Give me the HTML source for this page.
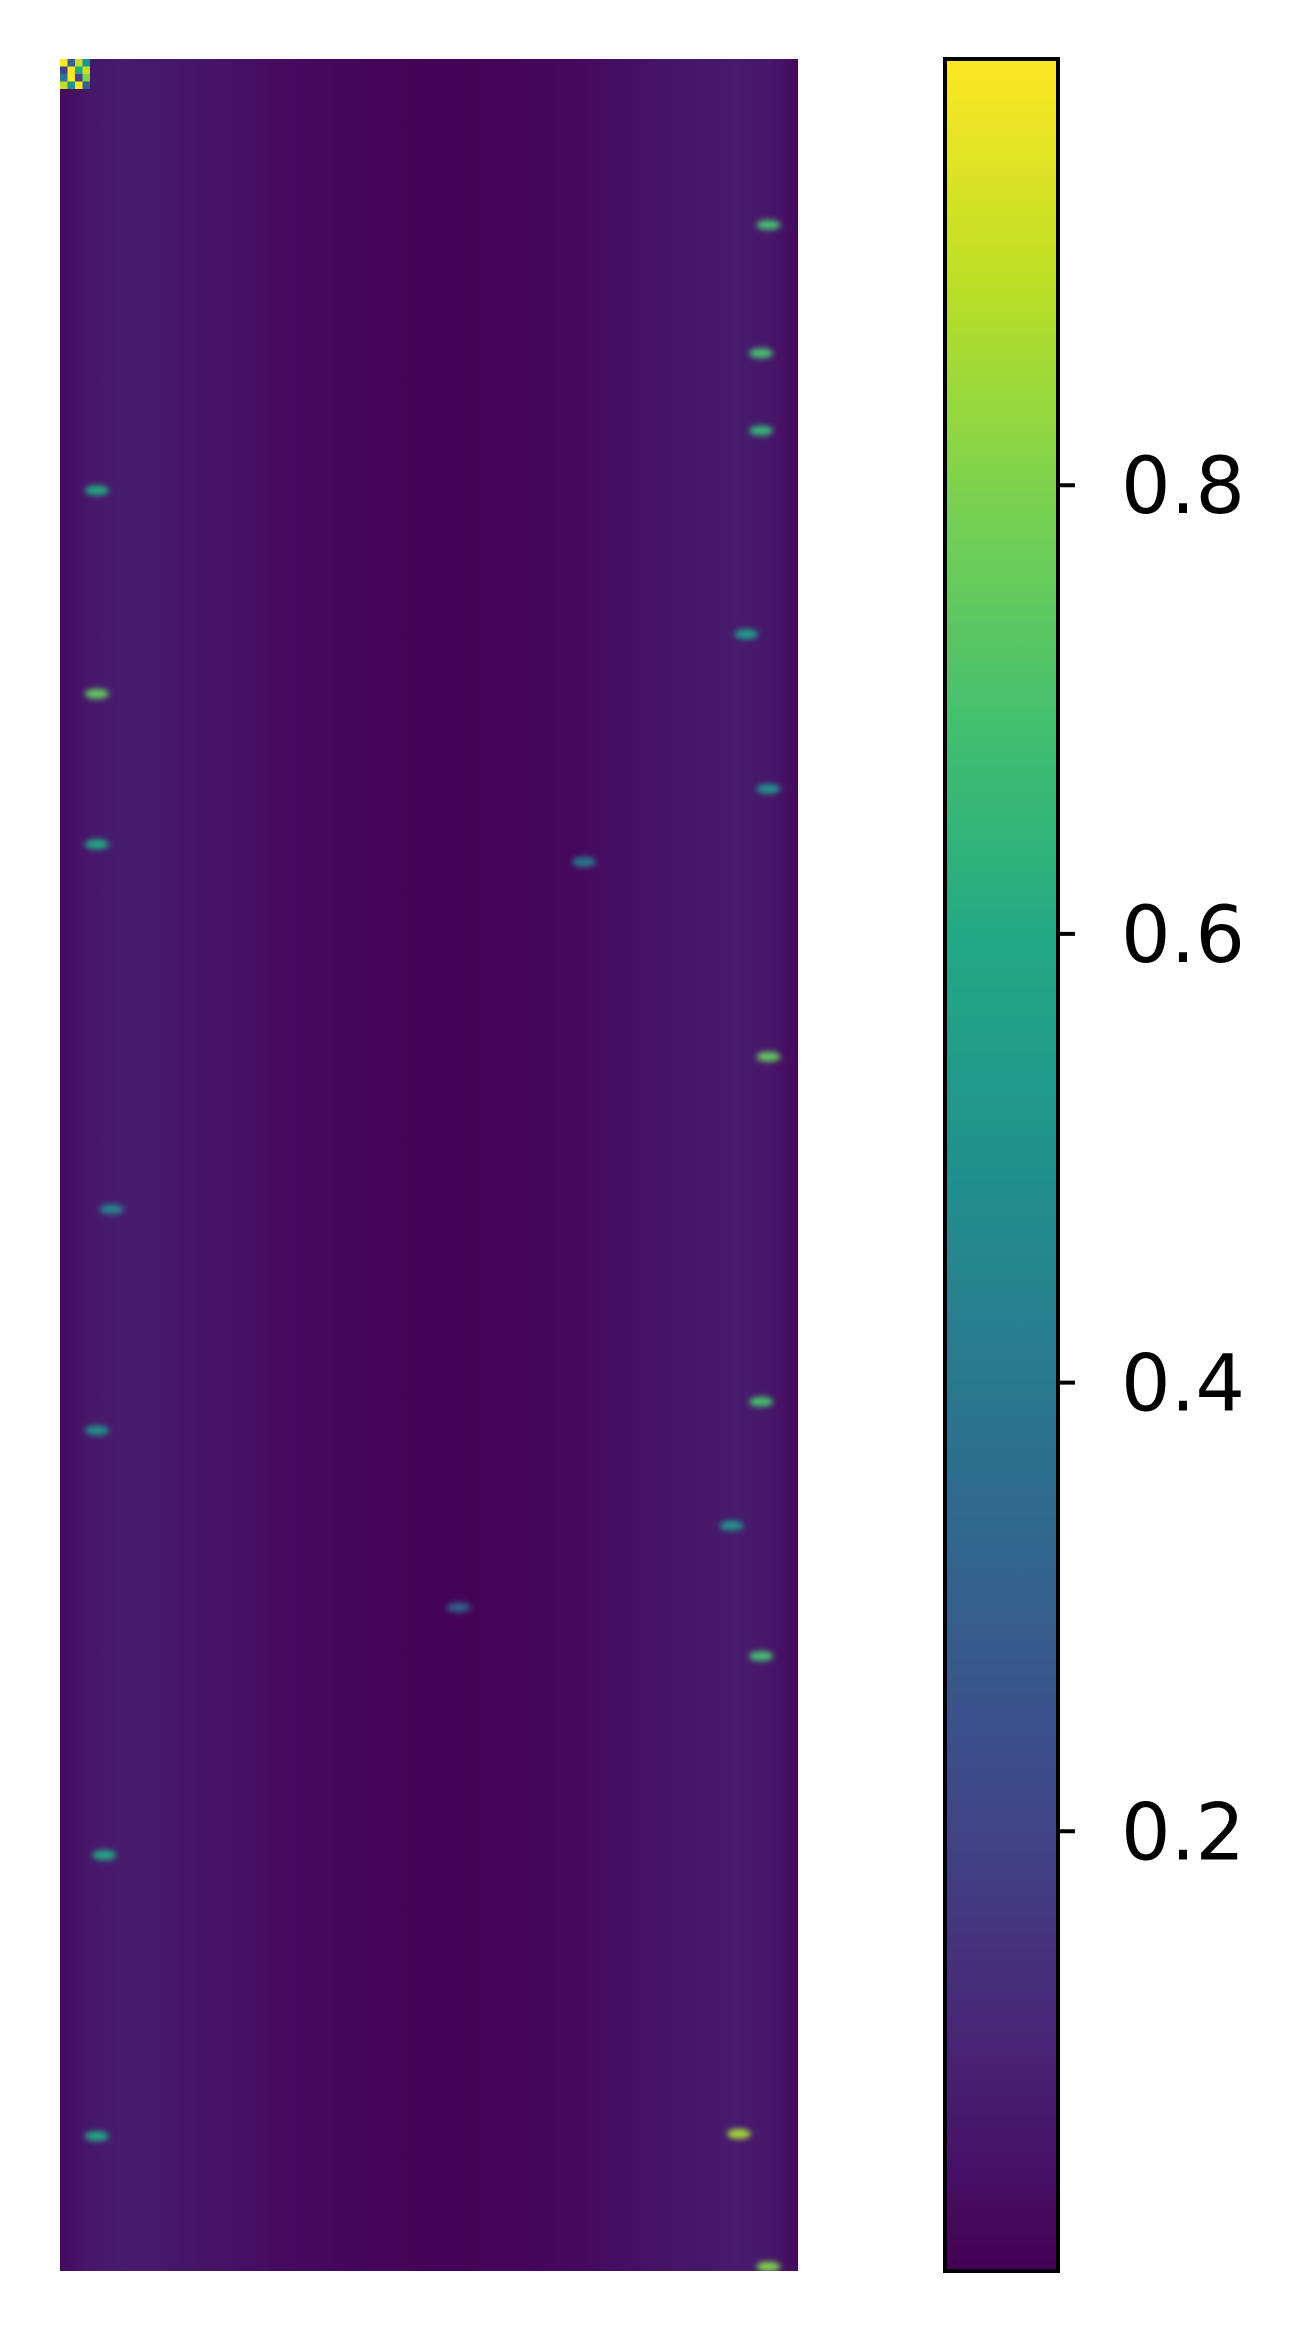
<!DOCTYPE html>
<html><head><meta charset="utf-8"><style>
html,body{margin:0;padding:0;background:#fff;width:1309px;height:2337px;overflow:hidden}
svg text{font-family:"DejaVu Sans","Liberation Sans",sans-serif}
</style></head><body>
<svg id="chart" width="1309" height="2337" viewBox="0 0 1309 2337" xmlns="http://www.w3.org/2000/svg">
<defs>
<linearGradient id="vir" x1="0" y1="1" x2="0" y2="0">
<stop offset="0" stop-color="#440154"/><stop offset="0.1" stop-color="#482475"/><stop offset="0.2" stop-color="#414487"/><stop offset="0.3" stop-color="#355f8d"/><stop offset="0.4" stop-color="#2a788e"/><stop offset="0.5" stop-color="#21918c"/><stop offset="0.6" stop-color="#22a884"/><stop offset="0.7" stop-color="#44bf70"/><stop offset="0.8" stop-color="#7ad151"/><stop offset="0.9" stop-color="#bddf26"/><stop offset="1" stop-color="#fde725"/>
</linearGradient>
<linearGradient id="colgrad" x1="0" y1="0" x2="1" y2="0"></linearGradient>
<filter id="blur" x="-50%" y="-50%" width="200%" height="200%"><feGaussianBlur stdDeviation="3"/></filter>
<clipPath id="hmclip"><rect x="60" y="59" width="738" height="2212"/></clipPath>
</defs>
<g id="heatmap" clip-path="url(#hmclip)"></g>
<g id="cbar"></g>
</svg>
<script>
const vmin = 0.004, vmax = 0.99;
const columnMeans = [0.03,0.07,0.08,0.075,0.065,0.055,0.045,0.035,0.03,0.022,0.016,0.012,0.01,0.01,0.012,0.016,0.022,0.03,0.04,0.05,0.06,0.07,0.078,0.07,0.03];
const spotX = [0.96,0.95,0.95,0.05,0.05,0.05,0.96,0.95,0.95,0.06,0.05,0.92,0.96,0.91,0.71,0.54,0.07,0.93,0.05,0.96];
const spotY = [0.075,0.133,0.168,0.195,0.287,0.355,0.451,0.607,0.722,0.812,0.939,0.938,0.998,0.663,0.363,0.70,0.52,0.26,0.62,0.33];
const spotV = [0.70,0.70,0.65,0.60,0.75,0.60,0.75,0.70,0.70,0.60,0.60,0.85,0.80,0.50,0.40,0.30,0.45,0.55,0.5,0.5];
const ticks = [0.2,0.4,0.6,0.8];
const tickLabels = ["0.2","0.4","0.6","0.8"];
const cornerCells = [1,0.3,0.9,0.5,0.2,1,0.6,0.9,0.4,1,0.2,0.8,0.9,0.5,1,0.3];

const stops=[[0,[68,1,84]],[0.1,[72,36,117]],[0.2,[65,68,135]],[0.3,[53,95,141]],[0.4,[42,120,142]],[0.5,[33,145,140]],[0.6,[34,168,132]],[0.7,[68,191,112]],[0.8,[122,209,81]],[0.9,[189,223,38]],[1,[253,231,37]]];
function viridis(v){v=Math.max(0,Math.min(1,(v-vmin)/(vmax-vmin)));for(let i=1;i<stops.length;i++){if(v<=stops[i][0]){const a=stops[i-1],b=stops[i],t=(v-a[0])/(b[0]-a[0]);return 'rgb('+a[1].map((c,k)=>Math.round(c+(b[1][k]-c)*t)).join(',')+')';}}return 'rgb(253,231,37)';}
const HX0=60,HX1=798,HY0=59,HY1=2271;
const xs=f=>HX0+f*(HX1-HX0), ys=f=>HY0+f*(HY1-HY0);
const NS='http://www.w3.org/2000/svg';
function mk(t,a,p){const e=document.createElementNS(NS,t);for(const k in a)e.setAttribute(k,a[k]);p.appendChild(e);return e;}
const cgrad=document.getElementById('colgrad');
columnMeans.forEach((v,i)=>{
 mk('stop',{offset:(i/(columnMeans.length-1)),'stop-color':viridis(v)},cgrad);
});
const hm=document.getElementById('heatmap');
const bg=mk('rect',{x:HX0,y:HY0,width:HX1-HX0,height:HY1-HY0,fill:'url(#colgrad)'},hm);


const sg=mk('g',{filter:'url(#blur)'},hm);
spotV.forEach((v,i)=>{
 const e=mk('ellipse',{cx:xs(spotX[i]),cy:ys(spotY[i]),rx:12,ry:5,fill:viridis(v)},sg);
 
 
});
cornerCells.forEach((v,i)=>{
 const r=mk('rect',{x:HX0+(i%4)*7.5,y:HY0+Math.floor(i/4)*7.5,width:7.5,height:7.5,fill:viridis(v)},hm);
 
 
});
const cb=document.getElementById('cbar');
const CX0=945,CX1=1058,CY0=59,CY1=2271;
const cy=v=>CY1-(v-vmin)/(vmax-vmin)*(CY1-CY0);
const grad=mk('rect',{x:CX0,y:CY0,width:CX1-CX0,height:CY1-CY0,fill:'url(#vir)'},cb);


const bd=mk('rect',{x:CX0,y:CY0,width:CX1-CX0,height:CY1-CY0,fill:'none',stroke:'#000','stroke-width':4},cb);


ticks.forEach((t,i)=>{
 const y=cy(t);
 const l=mk('line',{x1:CX1,x2:CX1+17,y1:y,y2:y,stroke:'#000','stroke-width':4},cb);
 
 
 const tx=mk('text',{x:1121,y:y+28,'font-size':78,fill:'#000'},cb);
 tx.textContent=tickLabels[i];
 
 
});
</script>
</body></html>
